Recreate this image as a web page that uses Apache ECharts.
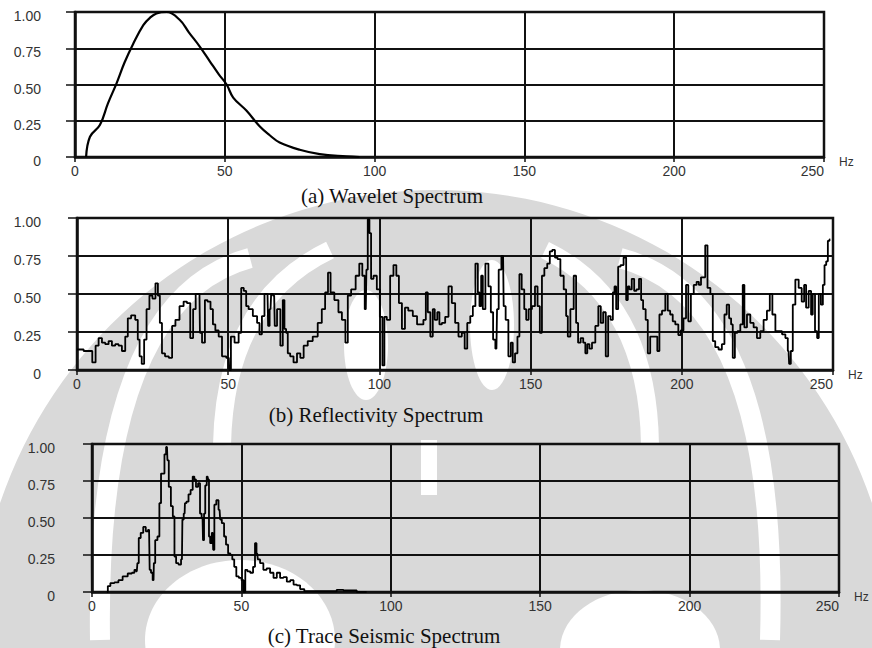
<!DOCTYPE html>
<html><head><meta charset="utf-8">
<script src="https://cdn.jsdelivr.net/npm/echarts@6/dist/echarts.min.js"></script>
<style>html,body{margin:0;padding:0;background:#fff}#c{width:872px;height:648px}</style>
</head><body><div id="c"></div>
<script>
// ---- data (Hz, normalized amplitude) ----
const freqTicks = [0, 50, 100, 150, 200, 250];
const ampTicks = [0, 0.25, 0.5, 0.75, 1];
const panelTitles = ['(a) Wavelet Spectrum', '(b) Reflectivity Spectrum', '(c) Trace Seismic Spectrum'];

const wavelet = [[3.7,0],[5,0.14],[8.3,0.22],[11,0.37],[13.9,0.51],[16.5,0.65],[19.4,0.78],[22.8,0.91],[25,0.96],[27.2,0.99],[30.6,1.0],[35,0.945],[38,0.86],[41.7,0.76],[45,0.66],[48,0.57],[50.6,0.50],[52.8,0.41],[57.2,0.32],[61.7,0.21],[65,0.15],[68.3,0.10],[75,0.05],[81.7,0.02],[90.6,0.005],[95,0]];

const reflectivity = [[0,0.135],[4.4,0.125],[5.7,0.05],[6.6,0.16],[7.7,0.21],[8.8,0.18],[9.9,0.17],[11,0.19],[12.1,0.16],[13.2,0.17],[14.3,0.16],[15.4,0.125],[16.5,0.22],[17.1,0.34],[18.7,0.36],[19.8,0.33],[20.4,0.20],[21,0.09],[21.8,0.04],[22.6,0.20],[23.4,0.40],[24.5,0.49],[25.4,0.47],[26.5,0.57],[27,0.49],[27.8,0.31],[28.4,0.11],[29.8,0.09],[30.9,0.08],[32,0.29],[33.1,0.33],[34.7,0.42],[35.8,0.45],[36.9,0.44],[38,0.21],[38.8,0.40],[39.7,0.50],[40.5,0.50],[40.8,0.245],[41.9,0.18],[42.7,0.46],[43.6,0.45],[44.7,0.40],[45.2,0.30],[46.3,0.26],[47.4,0.22],[48.5,0.09],[50.2,0.08],[50.5,0.0],[51.3,0.22],[52.9,0.18],[54,0.245],[54.6,0.54],[55.7,0.52],[56.2,0.42],[57.3,0.40],[59,0.355],[60.1,0.31],[60.6,0.235],[61.7,0.355],[62.3,0.50],[63,0.50],[63.4,0.29],[64,0.40],[64.4,0.50],[65.2,0.49],[65.6,0.29],[66.7,0.40],[67.8,0.16],[68.3,0.46],[68.9,0.27],[69.4,0.245],[70,0.11],[71,0.09],[72.2,0.05],[73.3,0.11],[74.4,0.08],[75.5,0.16],[77.1,0.19],[78.8,0.22],[80.4,0.31],[81.5,0.40],[82.6,0.51],[83.4,0.64],[84.3,0.51],[85.9,0.46],[87,0.38],[88.2,0.33],[89.3,0.18],[89.8,0.49],[91.5,0.53],[92.8,0.62],[93.9,0.70],[94.8,0.62],[95.5,0.40],[95.9,0.66],[96.4,0.99],[97,0.90],[97.5,0.60],[98.6,0.62],[99.7,0.53],[100.6,0.35],[101.4,0.03],[101.9,0.35],[103,0.33],[104.1,0.62],[105.2,0.69],[106,0.62],[106.9,0.44],[108,0.27],[108.9,0.41],[110.2,0.39],[111.9,0.355],[113,0.30],[114.1,0.30],[115,0.33],[115.7,0.51],[116.3,0.38],[117.4,0.22],[117.9,0.40],[118.7,0.33],[119.6,0.38],[120.1,0.30],[121.2,0.31],[122.3,0.35],[123.4,0.55],[124.5,0.44],[125.6,0.31],[126.7,0.22],[127.8,0.245],[128.6,0.14],[129.5,0.31],[130.6,0.355],[131.2,0.42],[132.3,0.70],[132.8,0.51],[133.4,0.42],[133.9,0.62],[134.5,0.40],[135.6,0.70],[136.5,0.55],[137.2,0.38],[138,0.20],[138.7,0.14],[139.1,0.40],[139.8,0.66],[140.9,0.75],[141.3,0.42],[142.2,0.33],[143.1,0.09],[143.8,0.18],[144.4,0.05],[145.3,0.11],[146,0.22],[146.6,0.63],[147.5,0.53],[148.3,0.40],[148.8,0.33],[149.9,0.40],[151,0.42],[151.9,0.55],[152.7,0.42],[153.4,0.245],[154.1,0.62],[155,0.67],[156,0.70],[156.7,0.78],[157.6,0.79],[158.5,0.74],[159.3,0.73],[160.4,0.62],[161.5,0.53],[162,0.355],[162.6,0.22],[163.7,0.40],[164.8,0.62],[165.3,0.31],[166.1,0.18],[167,0.21],[167.8,0.18],[168.4,0.11],[169.1,0.17],[169.8,0.14],[170.8,0.18],[172,0.29],[172.8,0.42],[173.6,0.31],[174.4,0.38],[175.3,0.09],[176,0.355],[176.9,0.33],[177.5,0.51],[178,0.55],[178.6,0.40],[179.3,0.68],[180.2,0.69],[181.3,0.74],[181.9,0.46],[182.4,0.55],[183,0.53],[183.9,0.60],[184.6,0.52],[185.4,0.53],[186.3,0.60],[186.8,0.46],[187.6,0.40],[188.5,0.33],[189,0.11],[190.1,0.22],[191.5,0.22],[192.3,0.125],[192.9,0.365],[194,0.39],[195.1,0.50],[195.6,0.39],[196.7,0.365],[197.3,0.32],[198.4,0.30],[199.3,0.23],[200,0.26],[201.1,0.34],[201.7,0.56],[202.6,0.32],[203.4,0.50],[204.5,0.56],[205.3,0.58],[206,0.56],[206.7,0.61],[207.4,0.61],[208.1,0.82],[208.9,0.54],[210,0.50],[210.5,0.19],[211.6,0.15],[212.7,0.135],[213.8,0.17],[214.4,0.365],[215.3,0.43],[216,0.34],[216.6,0.30],[217.1,0.08],[218,0.245],[218.8,0.255],[219.9,0.30],[220.4,0.56],[221,0.28],[222.1,0.365],[223.2,0.31],[224.3,0.28],[225.4,0.21],[226.5,0.255],[227.6,0.33],[228.7,0.39],[229.5,0.50],[230.4,0.365],[231.5,0.255],[232.6,0.255],[233.7,0.235],[234.8,0.21],[235.3,0.125],[235.7,0.04],[236.4,0.125],[237,0.43],[238.1,0.595],[239.2,0.54],[240.1,0.45],[240.8,0.56],[241.4,0.41],[242.5,0.52],[243,0.365],[243.6,0.50],[244.5,0.255],[245,0.21],[245.6,0.50],[246.4,0.43],[246.9,0.56],[247.5,0.69],[248,0.715],[248.6,0.85],[249.1,0.86]];

const traceSeismic = [[5.0,0],[5.6,0.04],[6.7,0.06],[8.3,0.065],[9.4,0.08],[11.1,0.105],[12.8,0.125],[13.9,0.13],[14.5,0.15],[15.0,0.14],[15.4,0.195],[15.9,0.365],[16.7,0.40],[17.6,0.44],[18.4,0.41],[19.1,0.42],[19.5,0.15],[20.0,0.13],[20.6,0.08],[20.8,0.195],[21.5,0.35],[22.3,0.375],[22.8,0.60],[23.4,0.80],[24.0,0.80],[24.5,0.93],[25.1,0.98],[25.4,0.89],[26.0,0.71],[26.8,0.58],[27.3,0.51],[27.9,0.24],[28.4,0.195],[29.5,0.185],[30.1,0.22],[30.4,0.49],[31.0,0.53],[31.2,0.60],[32.0,0.61],[32.6,0.66],[33.4,0.69],[34.0,0.78],[34.5,0.76],[35.1,0.71],[35.9,0.735],[36.4,0.53],[37.0,0.50],[37.3,0.35],[37.7,0.53],[38.1,0.72],[38.7,0.78],[39.0,0.76],[39.3,0.375],[39.8,0.33],[40.4,0.40],[40.7,0.285],[41.2,0.59],[42.0,0.62],[42.7,0.555],[43.1,0.49],[43.8,0.465],[44.6,0.375],[45.1,0.32],[46.0,0.26],[46.6,0.25],[47.3,0.22],[47.9,0.17],[48.7,0.105],[49.6,0.095],[50.5,0.08],[51.0,0.0],[51.6,0.15],[52.4,0.14],[53.5,0.13],[54.3,0.17],[54.8,0.33],[55.3,0.26],[55.7,0.22],[56.8,0.195],[57.9,0.15],[59.0,0.16],[60.2,0.13],[61.3,0.095],[62.4,0.13],[63.5,0.095],[64.6,0.10],[65.8,0.07],[66.9,0.08],[68.0,0.05],[69.1,0.045],[70.2,0.02],[71.9,0.005],[80.8,0.005],[83.0,0.015],[85.3,0.01],[91.9,0]];

// ---- layout ----
const grids = [
  {left: 75, top: 12, width: 749, height: 145},
  {left: 77, top: 218, width: 756, height: 152},
  {left: 92, top: 444, width: 747, height: 148}
];
const titlePos = [[392, 196], [376, 415], [384, 636]];
const seriesData = [wavelet, reflectivity, traceSeismic];

const labelFont = '"Liberation Sans", Arial, sans-serif';
const gray = '#d9d9d9';

function xAxisFor(i) {
  return {
    type: 'value', gridIndex: i, min: freqTicks[0], max: freqTicks[freqTicks.length - 1],
    interval: freqTicks[1] - freqTicks[0],
    axisLine: {show: true, onZero: false, lineStyle: {color: '#111', width: 2.5}},
    axisTick: {show: true, length: 5, lineStyle: {color: '#111', width: 1.5}},
    splitLine: {show: true, lineStyle: {color: '#111', width: 2}},
    axisLabel: {color: '#333', fontSize: 14, fontFamily: labelFont, margin: 7, alignMaxLabel: 'right'},
    name: 'Hz', nameLocation: 'end', nameGap: 15,
    nameTextStyle: {color: '#333', fontSize: 12, fontFamily: labelFont, verticalAlign: 'top', lineHeight: 10}
  };
}
function yAxisFor(i) {
  return {
    type: 'value', gridIndex: i, min: ampTicks[0], max: ampTicks[ampTicks.length - 1],
    interval: ampTicks[1] - ampTicks[0],
    axisLine: {show: true, lineStyle: {color: '#111', width: 2.5}},
    axisTick: {show: true, length: 9, lineStyle: {color: '#111', width: 1.5}},
    splitLine: {show: true, lineStyle: {color: '#111', width: 2}},
    axisLabel: {color: '#333', fontSize: 14, fontFamily: labelFont, margin: [34, 36, 37][i],
      verticalAlign: 'top', lineHeight: 8,
      formatter: v => v === 0 ? '0' : v.toFixed(2)}
  };
}

// faint watermark behind the charts
const watermark = [
  {type: 'circle', shape: {cx: 436, cy: 650, r: 460}, style: {fill: gray}},
  {type: 'bezierCurve', shape: {x1: 100, y1: 640, cpx1: 95, cpy1: 300, x2: 250, y2: 258}, style: {stroke: '#fff', lineWidth: 20, fill: null}},
  {type: 'bezierCurve', shape: {x1: 222, y1: 445, cpx1: 225, cpy1: 300, x2: 330, y2: 250}, style: {stroke: '#fff', lineWidth: 18, fill: null}},
  {type: 'bezierCurve', shape: {x1: 770, y1: 640, cpx1: 780, cpy1: 300, x2: 620, y2: 258}, style: {stroke: '#fff', lineWidth: 20, fill: null}},
  {type: 'bezierCurve', shape: {x1: 650, y1: 445, cpx1: 648, cpy1: 300, x2: 545, y2: 250}, style: {stroke: '#fff', lineWidth: 18, fill: null}},
  {type: 'ellipse', shape: {cx: 366, cy: 345, rx: 22, ry: 55}, style: {fill: '#fff'}},
  {type: 'ellipse', shape: {cx: 492, cy: 325, rx: 22, ry: 65}, style: {fill: '#fff'}},
  {type: 'rect', shape: {x: 421, y: 440, width: 16, height: 55}, style: {fill: '#fff'}},
  {type: 'ellipse', shape: {cx: 240, cy: 640, rx: 95, ry: 80}, style: {fill: '#fff'}},
  {type: 'ellipse', shape: {cx: 640, cy: 650, rx: 80, ry: 60}, style: {fill: '#fff'}}
].map(e => Object.assign({z: -100, silent: true}, e));

const titleTexts = panelTitles.map((t, i) => ({
  type: 'text', x: titlePos[i][0], y: titlePos[i][1], z: 10,
  style: {text: t, fill: '#111', font: '21px "Liberation Serif", "Times New Roman", serif',
    align: 'center', verticalAlign: 'middle'}
}));

const chart = echarts.init(document.getElementById('c'), null, {renderer: 'svg'});
chart.setOption({
  animation: false,
  backgroundColor: '#fff',
  grid: grids.map(g => Object.assign({show: true, borderColor: '#111', borderWidth: 2.5, backgroundColor: 'transparent', containLabel: false}, g)),
  xAxis: [0, 1, 2].map(xAxisFor),
  yAxis: [0, 1, 2].map(yAxisFor),
  series: seriesData.map((d, i) => ({
    type: 'line', xAxisIndex: i, yAxisIndex: i, data: d, showSymbol: false,
    smooth: i === 0 ? 0.4 : false,
    step: i === 0 ? false : 'middle',
    lineStyle: {color: '#000', width: i === 0 ? 2.2 : 1.8}, z: 5
  })),
  graphic: watermark.concat(titleTexts)
});
</script></body></html>
